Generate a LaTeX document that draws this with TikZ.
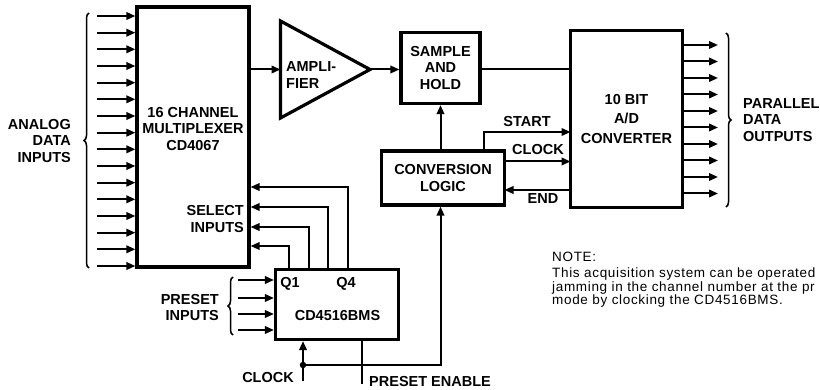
\documentclass[tikz,border=0pt]{standalone}
\usepackage{fontspec}
\setmainfont{Liberation Sans}
\newfontfamily\notefont[LetterSpace=5]{Liberation Sans}
\usetikzlibrary{arrows.meta,decorations.pathreplacing}
\newcommand\lblfont{\bfseries\fontsize{14.5}{16.5}\selectfont}
\begin{document}
\begin{tikzpicture}[x=1pt,y=-1pt,
  blk/.style={draw, line width=3.2pt, inner sep=0pt, align=center, font=\lblfont},
  lbl/.style={inner sep=0pt, align=center, font=\lblfont},
  wire/.style={line width=2pt},
  arr/.style={wire, -{Triangle[length=9pt,width=7.5pt]}},
  brc/.style={line width=1.5pt, decorate, decoration={brace, amplitude=5pt}}]
\useasboundingbox (0,0) rectangle (820,390);
% blocks
\node[blk, minimum width=112, minimum height=260] (mux) at (193,137){};
\node[blk, minimum width=79, minimum height=71] (snh) at (440.5,68){SAMPLE\\AND\\HOLD};
\node[blk, minimum width=123, minimum height=54] (conv) at (443,178){CONVERSION\\LOGIC};
\node[blk, minimum width=112, minimum height=177] (ad) at (626.5,119){10 BIT\\[3pt]A/D\\[3pt]CONVERTER};
\node[blk, minimum width=123, minimum height=70] (cnt) at (337,304.5){};
\coordinate (ampin) at (280.5,69.5);
\coordinate (amptip) at (370,69.5);
\draw[line width=3.2pt, line join=miter] (280.5,21) -- (amptip) -- (280.5,118) -- cycle;
% texts
\node[lbl, align=right, anchor=east] (lblain) at (71,141){ANALOG\\DATA\\INPUTS};
\node[lbl] (lblmux) at (193,129){16 CHANNEL\\MULTIPLEXER\\CD4067};
\node[lbl, align=right, anchor=east] (lblsel) at (244,219){SELECT\\INPUTS};
\node[lbl, align=left, anchor=west] (lblamp) at (286,75){AMPLI-\\FIER};
\node[lbl, align=left, anchor=west] (lblout) at (743,120){PARALLEL\\DATA\\OUTPUTS};
\node[lbl] (lblstart) at (527,122){START};
\node[lbl] (lblclk) at (538,150){CLOCK};
\node[lbl] (lblend) at (543,199){END};
\node[lbl] (lblq1) at (290,284){Q1};
\node[lbl] (lblq4) at (346,284){Q4};
\node[lbl] (lblcnt) at (337.5,316){CD4516BMS};
\node[lbl, align=right, anchor=east] (lblpre) at (219,307.5){PRESET\\INPUTS};
\node[lbl, anchor=east] (lblclkin) at (294,378){CLOCK};
\node[lbl, anchor=west] (lblpe) at (369,382){PRESET ENABLE};
\node[inner sep=0pt, anchor=base west, font=\notefont\fontsize{13.5}{13.3}\selectfont] (note) at (552,262){NOTE:};
\node[inner sep=0pt, anchor=north west, align=left, font=\notefont\fontsize{13.5}{13.3}\selectfont] (notetxt) at (552,268){This acquisition system can be operated\\jamming in the channel number at the pr\\mode by clocking the CD4516BMS.};
% analog inputs
\coordinate (ain1) at (97,16); \draw[arr](ain1) -- (ain1 -| mux.west);
\coordinate (ain2) at (97,32.7); \draw[arr](ain2) -- (ain2 -| mux.west);
\coordinate (ain3) at (97,49.3); \draw[arr](ain3) -- (ain3 -| mux.west);
\coordinate (ain4) at (97,66); \draw[arr](ain4) -- (ain4 -| mux.west);
\coordinate (ain5) at (97,82.7); \draw[arr](ain5) -- (ain5 -| mux.west);
\coordinate (ain6) at (97,99.3); \draw[arr](ain6) -- (ain6 -| mux.west);
\coordinate (ain7) at (97,116); \draw[arr](ain7) -- (ain7 -| mux.west);
\coordinate (ain8) at (97,132.7); \draw[arr](ain8) -- (ain8 -| mux.west);
\coordinate (ain9) at (97,149.3); \draw[arr](ain9) -- (ain9 -| mux.west);
\coordinate (ain10) at (97,166); \draw[arr](ain10) -- (ain10 -| mux.west);
\coordinate (ain11) at (97,182.7); \draw[arr](ain11) -- (ain11 -| mux.west);
\coordinate (ain12) at (97,199.3); \draw[arr](ain12) -- (ain12 -| mux.west);
\coordinate (ain13) at (97,216); \draw[arr](ain13) -- (ain13 -| mux.west);
\coordinate (ain14) at (97,232.7); \draw[arr](ain14) -- (ain14 -| mux.west);
\coordinate (ain15) at (97,249.3); \draw[arr](ain15) -- (ain15 -| mux.west);
\coordinate (ain16) at (97,266); \draw[arr](ain16) -- (ain16 -| mux.west);
\coordinate (bain0) at (89,268); \coordinate (bain1) at (89,13);
\draw[brc](bain0) -- (bain1);
% signal path
\draw[arr](ampin -| mux.east) -- (ampin);
\draw[arr](amptip) -- (amptip -| snh.west);
\draw[wire](amptip -| snh.east) -- (amptip -| ad.west);
\draw[arr](snh.south |- conv.north) -- (snh.south);
% conversion handshake
\coordinate (st0) at (484,151); \coordinate (st1) at (570.5,132);
\draw[arr](st0) |- (st1);
\coordinate (ck1) at (570.5,161.5);
\draw[arr](ck1 -| conv.east) -- (ck1);
\coordinate (en1) at (504.5,190);
\draw[arr](en1 -| ad.west) -- (en1);
% parallel outputs
\coordinate (dout1) at (718,45); \draw[arr](dout1 -| ad.east) -- (dout1);
\coordinate (dout2) at (718,61.5); \draw[arr](dout2 -| ad.east) -- (dout2);
\coordinate (dout3) at (718,78); \draw[arr](dout3 -| ad.east) -- (dout3);
\coordinate (dout4) at (718,94.5); \draw[arr](dout4 -| ad.east) -- (dout4);
\coordinate (dout5) at (718,111); \draw[arr](dout5 -| ad.east) -- (dout5);
\coordinate (dout6) at (718,127.5); \draw[arr](dout6 -| ad.east) -- (dout6);
\coordinate (dout7) at (718,144); \draw[arr](dout7 -| ad.east) -- (dout7);
\coordinate (dout8) at (718,160.5); \draw[arr](dout8 -| ad.east) -- (dout8);
\coordinate (dout9) at (718,177); \draw[arr](dout9 -| ad.east) -- (dout9);
\coordinate (dout10) at (718,193.5); \draw[arr](dout10 -| ad.east) -- (dout10);
\coordinate (bout0) at (726,33); \coordinate (bout1) at (726,207);
\draw[brc](bout0) -- (bout1);
% select inputs
\coordinate (sel1) at (348,187); \draw[arr](sel1 |- cnt.north) |- (sel1 -| mux.east);
\coordinate (sel2) at (328,207); \draw[arr](sel2 |- cnt.north) |- (sel2 -| mux.east);
\coordinate (sel3) at (309,227); \draw[arr](sel3 |- cnt.north) |- (sel3 -| mux.east);
\coordinate (sel4) at (289,246); \draw[arr](sel4 |- cnt.north) |- (sel4 -| mux.east);
% preset inputs
\coordinate (pin1) at (238,280); \draw[arr](pin1) -- (pin1 -| cnt.west);
\coordinate (pin2) at (238,298); \draw[arr](pin2) -- (pin2 -| cnt.west);
\coordinate (pin3) at (238,314); \draw[arr](pin3) -- (pin3 -| cnt.west);
\coordinate (pin4) at (238,330); \draw[arr](pin4) -- (pin4 -| cnt.west);
\coordinate (bpin0) at (233,335); \coordinate (bpin1) at (233,277);
\draw[brc](bpin0) -- (bpin1);
% clock and preset enable
\coordinate (clkin) at (303,381);
\node[circle, fill, inner sep=0pt, minimum size=6.5pt] (jclk) at (303,365){};
\draw[arr](clkin) -- (clkin |- cnt.south);
\draw[arr](jclk.center) -| (snh.south |- conv.south);
\coordinate (pe) at (362,384);
\draw[wire](pe |- cnt.south) -- (pe);
\end{tikzpicture}
\end{document}
